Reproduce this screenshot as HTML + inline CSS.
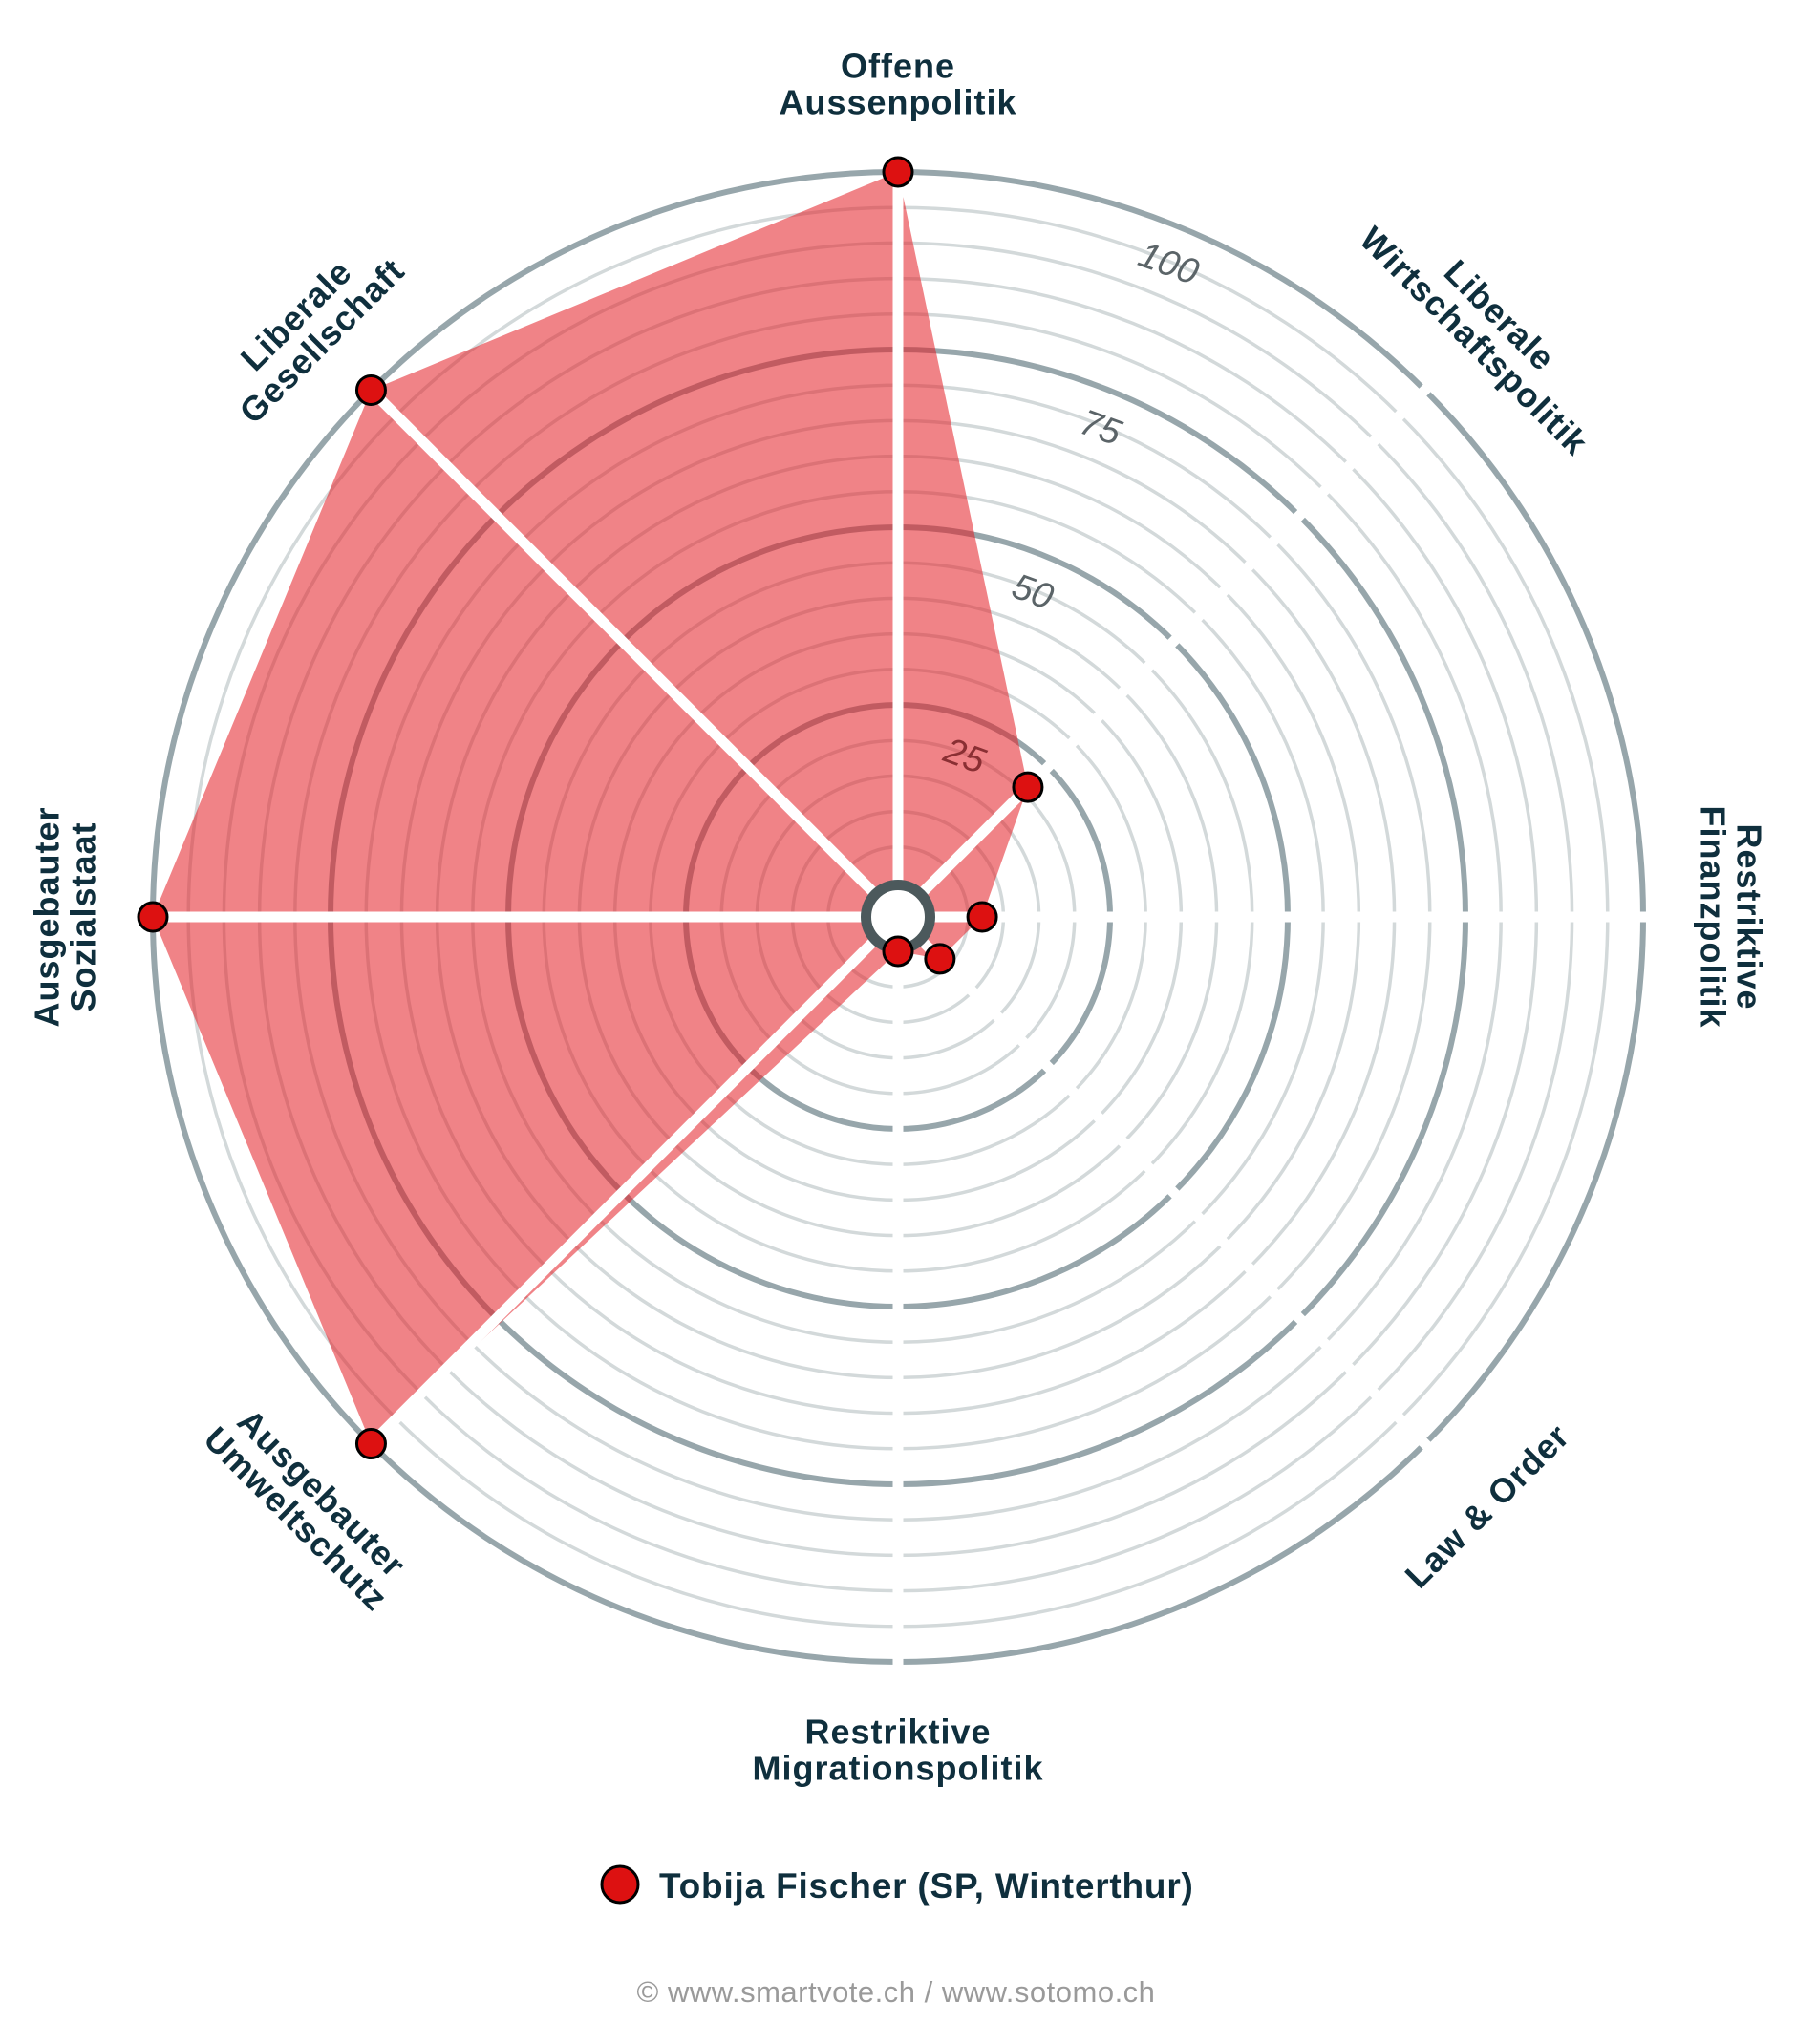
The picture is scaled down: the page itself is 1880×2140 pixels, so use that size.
<!DOCTYPE html>
<html><head><meta charset="utf-8">
<style>
html,body{margin:0;padding:0;background:#fff;}
body{width:1880px;height:2140px;overflow:hidden;font-family:"Liberation Sans",sans-serif;}
svg{display:block;}
</style></head>
<body>
<svg id="chart" width="1880" height="2140" viewBox="0 0 1880 2140" xmlns="http://www.w3.org/2000/svg">
<g id="rings"></g>
<polygon id="area" fill="#e31e24" fill-opacity="0.55"></polygon>
<g id="spokes"></g>
<g id="ticks"></g>
<circle cx="940" cy="960" r="33.5" fill="#fff" stroke="#4c595c" stroke-width="11"></circle>
<g id="dots"></g>
<g id="labels"></g>
<g>
<circle cx="649" cy="1973" r="19" fill="#dd1111" stroke="#000" stroke-width="3"></circle>
<text x="690" y="1987" font-size="37" font-weight="bold" letter-spacing="0.8" fill="#0f2f3d">Tobija Fischer (SP, Winterthur)</text>
</g>
<text x="938" y="2096" text-anchor="middle" font-size="31" letter-spacing="0.5" fill="#9a9a9a">© www.smartvote.ch / www.sotomo.ch</text>
</svg>
<script>
const categories = [["Offene","Aussenpolitik"],["Liberale","Wirtschaftspolitik"],["Restriktive","Finanzpolitik"],["Law & Order"],["Restriktive","Migrationspolitik"],["Ausgebauter","Umweltschutz"],["Ausgebauter","Sozialstaat"],["Liberale","Gesellschaft"]];
const values = [100, 21, 7, 3.5, 0, 100, 100, 100];
const tickValues = [25, 50, 75, 100];
const tickLabels = ["25", "50", "75", "100"];

const NS = "http://www.w3.org/2000/svg";
const cx = 940, cy = 960, r0 = 36, k = 7.44;
function rScale(v){ return r0 + k * v; }
function angle(i){ return i * 2 * Math.PI / categories.length; }
function pt(i, v){ const a = angle(i), r = rScale(v); return [cx + r * Math.sin(a), cy - r * Math.cos(a)]; }
function mk(tag, attrs, parent){ const e = document.createElementNS(NS, tag); for (const a in attrs) e.setAttribute(a, attrs[a]); parent.appendChild(e); return e; }

const rings = document.getElementById('rings');
for (let v = 5; v <= 100; v += 5) {
  const major = v % 25 === 0;
  const c = mk('circle', {cx: cx, cy: cy, r: rScale(v), fill: 'none', stroke: major ? '#97a6ab' : '#d3d9da', 'stroke-width': major ? 6 : 3.5}, rings);
  
  
}

const area = document.getElementById('area');
area.setAttribute('points', values.map((v, i) => pt(i, v).join(',')).join(' '));

const spokes = document.getElementById('spokes');
categories.forEach((c, i) => {
  const p0 = pt(i, 0), p1 = pt(i, 102);
  const l = mk('line', {x1: p0[0], y1: p0[1], x2: p1[0], y2: p1[1], stroke: '#fff', 'stroke-width': 11}, spokes);
  
  
});

const ticks = document.getElementById('ticks');
const ta = 22.5 * Math.PI / 180;
tickValues.forEach((v, j) => {
  const r = rScale(v) - 40;
  const x = cx + r * Math.sin(ta), y = cy - r * Math.cos(ta);
  const t = mk('text', {x: x, y: y, 'text-anchor': 'middle', 'dominant-baseline': 'central', 'font-size': 38, 'font-style': 'italic', fill: v <= 25 ? '#8a2f33' : '#5b6468', transform: 'rotate(20 ' + x + ' ' + y + ')'}, ticks);
  t.textContent = tickLabels[j];
  
  
});

const dots = document.getElementById('dots');
values.forEach((v, i) => {
  const p = pt(i, v);
  const d = mk('circle', {cx: p[0], cy: p[1], r: 15, fill: '#dd1111', stroke: '#000', 'stroke-width': 3}, dots);
  
  
});

const labels = document.getElementById('labels');
categories.forEach((lines, i) => {
  const deg = i * 360 / categories.length;
  const a = angle(i), r = 872;
  const x = cx + r * Math.sin(a), y = cy - r * Math.cos(a);
  let rot = deg;
  if (deg > 90 && deg < 270) rot = deg - 180;
  if (deg === 270) rot = -90;
  const g = mk('g', {transform: 'translate(' + x + ' ' + y + ') rotate(' + rot + ')'}, labels);
  
  
  const lh = 38, n = lines.length;
  lines.forEach((s, j) => {
    const t = mk('text', {x: 0, y: (j - (n - 1) / 2) * lh, 'text-anchor': 'middle', 'dominant-baseline': 'central', 'font-size': 36, 'font-weight': 'bold', 'letter-spacing': 1, fill: '#0f2f3d'}, g);
    t.textContent = s;
    
    
  });
});
</script>
</body></html>
